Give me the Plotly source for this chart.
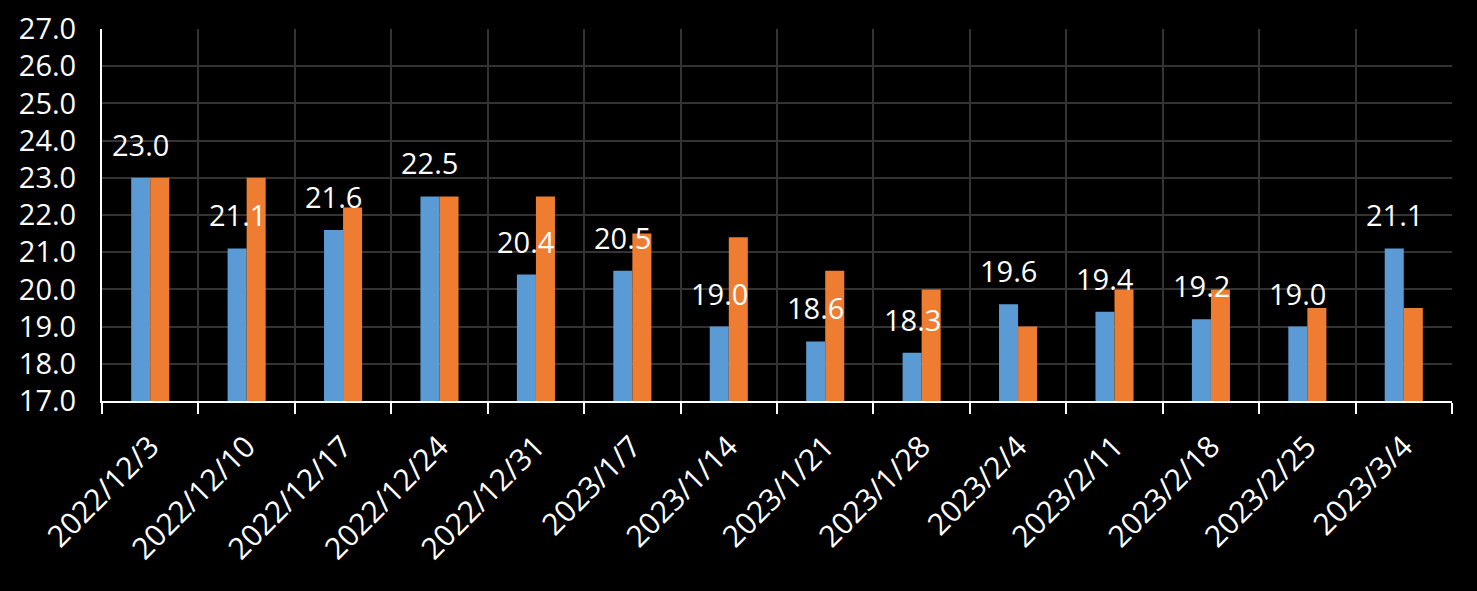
import plotly.graph_objects as go

categories = ["2022/12/3", "2022/12/10", "2022/12/17", "2022/12/24", "2022/12/31",
              "2023/1/7", "2023/1/14", "2023/1/21", "2023/1/28", "2023/2/4",
              "2023/2/11", "2023/2/18", "2023/2/25", "2023/3/4"]
series_blue = [23.0, 21.1, 21.6, 22.5, 20.4, 20.5, 19.0, 18.6, 18.3, 19.6, 19.4, 19.2, 19.0, 21.1]
series_orange = [23.0, 23.0, 22.2, 22.5, 22.5, 21.5, 21.4, 20.5, 20.0, 19.0, 20.0, 20.0, 19.5, 19.5]
y_ticks = [17, 18, 19, 20, 21, 22, 23, 24, 25, 26, 27]

FONT = "Open Sans"

fig = go.Figure()
fig.add_trace(go.Bar(x=categories, y=series_blue, marker=dict(color="#5b9bd5", line=dict(width=0)),
                     name="A"))
fig.add_trace(go.Bar(x=categories, y=series_orange, marker=dict(color="#ee7d31", line=dict(width=0)),
                     name="B"))

for c, v in zip(categories, series_blue):
    fig.add_annotation(x=c, y=v, text=f"{v:.1f}", showarrow=False, xshift=-9.6, yshift=12,
                       yanchor="bottom", xanchor="center",
                       font=dict(family=FONT, size=29, color="white"))

fig.update_layout(
    width=1477, height=591,
    paper_bgcolor="black", plot_bgcolor="black",
    margin=dict(l=102, r=25, t=29, b=190),
    barmode="group", bargap=0.605, bargroupgap=0,
    showlegend=False,
    font=dict(family=FONT, color="white"),
)
fig.update_xaxes(
    type="category", tickangle=-45, tickson="boundaries", automargin=False,
    ticks="outside", ticklen=11, tickwidth=2, tickcolor="white",
    showline=True, linecolor="white", linewidth=2,
    showgrid=True, gridcolor="#333333", gridwidth=1.5,
    ticklabelstandoff=14,
    tickfont=dict(family=FONT, size=30, color="white"),
)
fig.update_yaxes(
    range=[17, 27], tickvals=y_ticks, tickformat=".1f", automargin=False,
    showline=True, linecolor="white", linewidth=2,
    showgrid=True, gridcolor="#333333", gridwidth=1.5,
    zeroline=False, ticks="", ticklabelstandoff=18,
    tickfont=dict(family=FONT, size=29, color="white"),
)

fig.write_html("out.html", config={"displayModeBar": False},
               post_script="document.body.style.margin='0';document.body.style.padding='0';document.body.style.background='black';")
